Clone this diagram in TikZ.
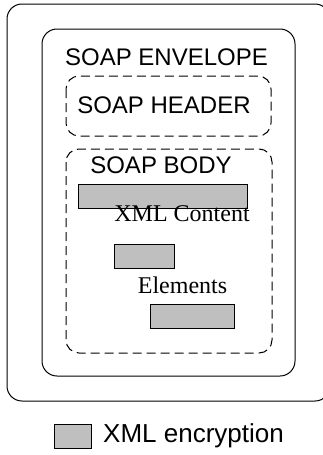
\documentclass[tikz,border=0pt]{standalone}
\usepackage{fontspec}
\setmainfont{Liberation Serif}
\setsansfont{Liberation Sans}
\begin{document}
\begin{tikzpicture}[x=1pt,y=-1pt,
  frame/.style={draw=black,line width=1pt,rounded corners=15pt},
  part/.style={draw=black,line width=1pt,rounded corners=13pt,dash pattern=on 9pt off 5pt},
  enc/.style={draw=black,line width=1pt,fill=black!25},
  title/.style={inner sep=0pt,anchor=base,font=\sffamily\fontsize{24}{24}\selectfont},
  label/.style={inner sep=0pt,anchor=base,font=\rmfamily\fontsize{24}{24}\selectfont}]
\useasboundingbox (0,0) rectangle (323,455);
\begin{scope}
\clip (0,0) rectangle (323,455);
% message container, cut by the right margin
\draw[frame] (7,4) rectangle (330,401);
\end{scope}
% envelope with header and body
\draw[frame] (42,29) rectangle (295,376);
\node[title] (env) at (166.5,65) {SOAP ENVELOPE};
\draw[part] (66,76) rectangle (271,136);
\node[title] (hdr) at (164,113) {SOAP HEADER};
\draw[part] (66,149) rectangle (272,353);
\node[title] (body) at (161,173) {SOAP BODY};
% encrypted parts of the body
\draw[enc] (78,184) rectangle (247,208);
\node[label] (content) at (182,221) {XML Content};
\draw[enc] (114,244) rectangle (174,268);
\node[label] (elems) at (182.5,293) {Elements};
\draw[enc] (150,304) rectangle (234,328);
% legend
\draw[enc] (54,424) rectangle (91,448);
\node[title,anchor=base west,font=\sffamily\fontsize{26}{26}\selectfont] (leg) at (103,442) {XML encryption};
\end{tikzpicture}
\end{document}
